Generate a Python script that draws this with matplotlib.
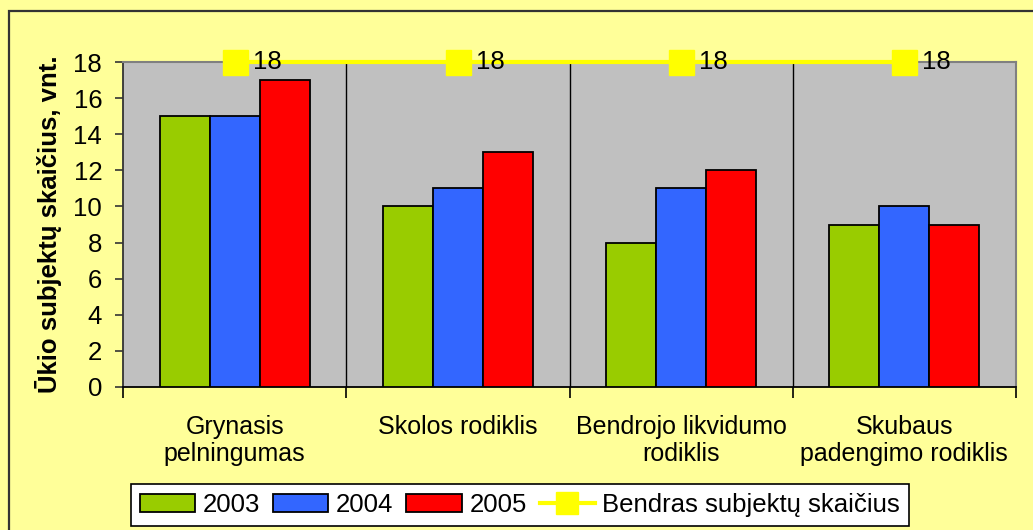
import matplotlib
matplotlib.use("Agg")
import matplotlib.pyplot as plt
from matplotlib.patches import Rectangle
import numpy as np

plt.rcParams['font.family'] = ['Liberation Sans', 'DejaVu Sans']

categories = ["Grynasis\npelningumas", "Skolos rodiklis", "Bendrojo likvidumo\nrodiklis", "Skubaus\npadengimo rodiklis"]
years = ["2003", "2004", "2005"]
v2003 = [15, 10, 8, 9]
v2004 = [15, 11, 11, 10]
v2005 = [17, 13, 12, 9]
total = [18, 18, 18, 18]
total_label = "Bendras subjektų skaičius"
yticks = [0, 2, 4, 6, 8, 10, 12, 14, 16, 18]

colors = ["#99CC00", "#3366FF", "#FF0000"]
FS = 18.5

fig = plt.figure(figsize=(10.33, 5.30), dpi=100)
fig.patch.set_facecolor("#FFFF99")
# outer chart border
fig.patches.append(Rectangle((9/1033, -0.1), 1.2, 1 - 11/530 + 0.1, transform=fig.transFigure,
                             fill=False, edgecolor="#333333", linewidth=1.6))

ax = fig.add_axes([123/1033, 1 - 387/530, (1016 - 123)/1033, (387 - 62)/530])
ax.set_facecolor("#C0C0C0")

x = np.arange(len(categories))
w = 0.224
series = [v2003, v2004, v2005]
handles = []
for i, (vals, c, lab) in enumerate(zip(series, colors, years)):
    b = ax.bar(x + (i - 1) * w, vals, width=w, color=c, edgecolor="black", linewidth=1.3, label=lab, zorder=3)
    handles.append(b)

line, = ax.plot(x, total, color="#FFFF00", linewidth=3, marker="s", markersize=18,
                markeredgecolor="#FFFF00", clip_on=False, zorder=5, label=total_label)
for xi, t in zip(x, total):
    ax.annotate(str(t), (xi, t), xytext=(13, 0), textcoords="offset points",
                ha="left", va="center", fontsize=FS, color="black", zorder=6, annotation_clip=False)

ax.set_xlim(-0.5, len(categories) - 0.5)
ax.set_ylim(0, 18)
ax.set_yticks(yticks)
ax.tick_params(axis="y", direction="out", length=6, width=1.2, color="#333333", labelsize=FS, pad=9)

ax.set_xticks(x)
ax.set_xticklabels(categories, fontsize=18, linespacing=1.15)
ax.tick_params(axis="x", which="major", length=0, pad=20)
ax.set_xticks(np.arange(-0.5, len(categories), 1.0), minor=True)
ax.tick_params(axis="x", which="minor", direction="out", length=8, width=1.2, color="black")

for b in np.arange(0.5, len(categories) - 0.5, 1.0):
    ax.axvline(b, color="black", linewidth=1.0, zorder=2)

for s in ["top", "right"]:
    ax.spines[s].set_color("#808080")
    ax.spines[s].set_linewidth(1.5)
ax.spines["left"].set_color("#333333")
ax.spines["left"].set_linewidth(1.3)
ax.spines["bottom"].set_color("black")
ax.spines["bottom"].set_linewidth(1.3)

ax.set_ylabel("Ūkio subjektų skaičius, vnt.", fontsize=FS, fontweight="bold", labelpad=8)

leg = fig.legend(handles=handles + [line], labels=years + [total_label], loc="upper left",
                 bbox_to_anchor=(131/1033, 1 - 484/530), ncol=4, frameon=True, fancybox=False,
                 fontsize=FS, handlelength=2.15, handleheight=0.7, handletextpad=0.3, columnspacing=0.5,
                 borderpad=0.35, edgecolor="black", borderaxespad=0)
leg.get_frame().set_facecolor("white")
leg.get_frame().set_linewidth(1.2)
leg.get_frame().set_alpha(1)
for h in leg.legend_handles[-1:]:
    h.set_markersize(16)

fig.savefig("out.png", dpi=100, facecolor=fig.get_facecolor())
